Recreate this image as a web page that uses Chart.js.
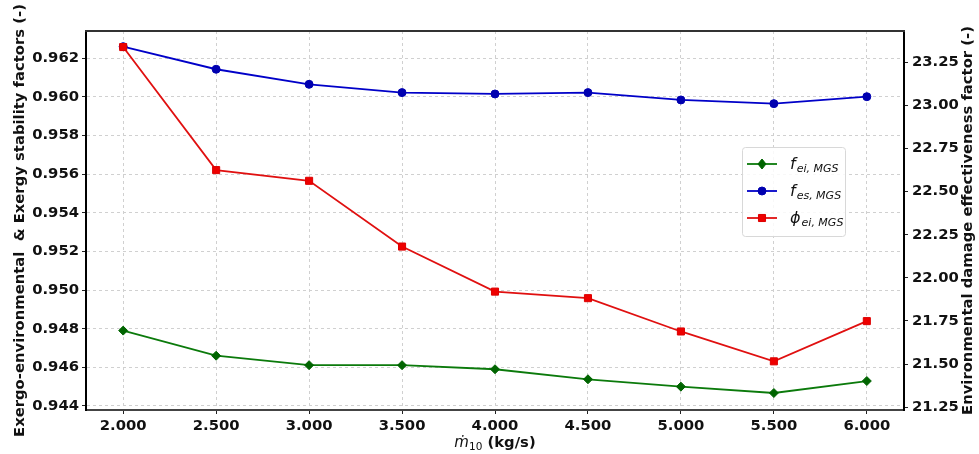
<!DOCTYPE html>
<html>
<head>
<meta charset="utf-8">
<script src="https://cdn.jsdelivr.net/npm/chart.js@4.4.0/dist/chart.umd.min.js"></script>
<style>
  body { margin: 0; background: #fff; }
</style>
</head>
<body>
<canvas id="mgsChart" width="979" height="454"></canvas>
<script>
// mass flow rate m10 (kg/s)
const massFlow = [2.0, 2.5, 3.0, 3.5, 4.0, 4.5, 5.0, 5.5, 6.0];
// exergo-environmental factor (left axis)
const fEi = [0.9479, 0.9466, 0.94611, 0.94611, 0.9459, 0.94538, 0.9450, 0.94467, 0.94529];
// exergy stability factor (left axis)
const fEs = [0.9626, 0.96143, 0.96065, 0.96022, 0.96015, 0.96022, 0.95984, 0.95965, 0.96001];
// environmental damage effectiveness factor (right axis)
const phiEi = [23.337, 22.624, 22.562, 22.181, 21.920, 21.882, 21.689, 21.516, 21.749];

const xTicks = [2.0, 2.5, 3.0, 3.5, 4.0, 4.5, 5.0, 5.5, 6.0];
const leftTicks = [0.944, 0.946, 0.948, 0.950, 0.952, 0.954, 0.956, 0.958, 0.960, 0.962];
const rightTicks = [21.25, 21.50, 21.75, 22.00, 22.25, 22.50, 22.75, 23.00, 23.25];

// legend text: main symbol + subscript
const legendSymbols = ['f', 'f', 'ϕ'];
const legendSubs = ['ei, MGS', 'es, MGS', 'ei, MGS'];
const rightTitle = 'Environmental damage effectiveness factor (-)';

const FONT = "'DejaVu Sans', 'Liberation Sans', sans-serif";
const tickFont = { family: FONT, size: 14.8, weight: 'bold' };
const dashGrid = { color: '#d0d0d0', lineWidth: 1, tickLength: 4, tickColor: '#222', tickBorderDash: [1, 0], tickWidth: 1 };

function pts(ys) {
    return massFlow.map((x, i) => ({ x: x, y: ys[i] }));
}

// draws a marker in the legend
function drawMarker(ctx, style, x, y, r) {
    ctx.beginPath();
    if (style === 'circle') {
        ctx.arc(x, y, r, 0, Math.PI * 2);
    } else if (style === 'rect') {
        const s = r * Math.SQRT1_2;
        ctx.rect(x - s, y - s, 2 * s, 2 * s);
    } else {
        ctx.moveTo(x, y - r);
        ctx.lineTo(x + r * 0.8, y);
        ctx.lineTo(x, y + r);
        ctx.lineTo(x - r * 0.8, y);
        ctx.closePath();
    }
    ctx.fill();
    ctx.stroke();
}

// frame line on top, axis titles drawn by hand, legend box
const extras = {
    id: 'extras',
    afterDraw(chart) {
        const ctx = chart.ctx;
        const a = chart.chartArea;
        ctx.save();

        // top spine
        ctx.strokeStyle = '#333';
        ctx.lineWidth = 2;
        ctx.beginPath();
        ctx.moveTo(a.left - 1, a.top);
        ctx.lineTo(a.right + 1, a.top);
        ctx.stroke();

        // x title: m-dot with subscript 10, then unit
        ctx.fillStyle = '#111';
        ctx.textBaseline = 'alphabetic';
        const base = 447;
        const p1 = 'ṁ', p2 = '10', p3 = ' (kg/s)';
        const f1 = 'italic 15px ' + FONT, f2 = '10.5px ' + FONT, f3 = 'bold 14.8px ' + FONT;
        ctx.font = f1; const w1 = ctx.measureText(p1).width;
        ctx.font = f2; const w2 = ctx.measureText(p2).width;
        ctx.font = f3; const w3 = ctx.measureText(p3).width;
        let x = (a.left + a.right) / 2 - (w1 + w2 + w3) / 2;
        ctx.textAlign = 'left';
        ctx.font = f1; ctx.fillText(p1, x, base); x += w1;
        ctx.font = f2; ctx.fillText(p2, x, base + 3); x += w2;
        ctx.font = f3; ctx.fillText(p3, x, base);

        // right axis title, reading bottom to top
        ctx.save();
        ctx.translate(968, (a.top + a.bottom) / 2);
        ctx.rotate(-Math.PI / 2);
        ctx.textAlign = 'center';
        ctx.textBaseline = 'middle';
        ctx.font = 'bold 14.8px ' + FONT;
        ctx.fillText(rightTitle, 0, 0);
        ctx.restore();

        // legend
        const bx = 742, by = 147, bw = 103, bh = 89;
        ctx.fillStyle = 'rgba(255,255,255,0.85)';
        ctx.strokeStyle = '#d8d8d8';
        ctx.lineWidth = 1;
        ctx.beginPath();
        if (ctx.roundRect) ctx.roundRect(bx + 0.5, by + 0.5, bw, bh, 3);
        else ctx.rect(bx + 0.5, by + 0.5, bw, bh);
        ctx.fill();
        ctx.stroke();

        const order = [0, 1, 2];
        order.forEach((di, i) => {
            const ds = chart.data.datasets[di];
            const cy = by + 17 + i * 27;
            ctx.strokeStyle = ds.borderColor;
            ctx.lineWidth = 1.8;
            ctx.beginPath();
            ctx.moveTo(bx + 5, cy);
            ctx.lineTo(bx + 35, cy);
            ctx.stroke();
            ctx.fillStyle = ds.pointBackgroundColor;
            ctx.strokeStyle = ds.pointBorderColor;
            ctx.lineWidth = 1;
            drawMarker(ctx, ds.pointStyle, bx + 20, cy, ds.pointStyle === 'circle' ? 4 : 5);

            ctx.fillStyle = '#111';
            ctx.textAlign = 'left';
            ctx.textBaseline = 'alphabetic';
            ctx.font = 'italic 16px ' + FONT;
            const tx = bx + 48;
            ctx.fillText(legendSymbols[di], tx, cy + 5);
            const sw = ctx.measureText(legendSymbols[di]).width;
            ctx.font = 'italic 11px ' + FONT;
            ctx.fillText(legendSubs[di], tx + sw + 1, cy + 8);
        });

        ctx.restore();
    }
};

const ctx = document.getElementById('mgsChart').getContext('2d');
const chart = new Chart(ctx, {
    type: 'line',
    data: {
        datasets: [{
            label: 'f_ei,MGS',
            data: pts(fEi),
            yAxisID: 'y',
            borderColor: '#0b7a0b',
            pointBackgroundColor: '#006400',
            pointBorderColor: '#006400',
            pointStyle: 'rectRot',
            pointRadius: 4.5,
            order: 3
        }, {
            label: 'f_es,MGS',
            data: pts(fEs),
            yAxisID: 'y',
            borderColor: '#0000c8',
            pointBackgroundColor: '#0000b0',
            pointBorderColor: '#0000b0',
            pointStyle: 'circle',
            pointRadius: 4,
            order: 2
        }, {
            label: 'phi_ei,MGS',
            data: pts(phiEi),
            yAxisID: 'y1',
            borderColor: '#e01010',
            pointBackgroundColor: '#ee0000',
            pointBorderColor: '#dd0000',
            pointStyle: 'rect',
            pointRadius: 5,
            order: 1
        }]
    },
    options: {
        responsive: false,
        animation: false,
        devicePixelRatio: 1,
        layout: { padding: { top: 31, left: 0, right: 0, bottom: 0 } },
        elements: {
            line: { borderWidth: 1.8, tension: 0 },
            point: { borderWidth: 1 }
        },
        plugins: {
            legend: { display: false },
            tooltip: { enabled: false }
        },
        scales: {
            x: {
                type: 'linear',
                min: 1.8,
                max: 6.2,
                afterBuildTicks: s => { s.ticks = xTicks.map(v => ({ value: v })); },
                afterFit: s => { s.height = 44; },
                ticks: {
                    font: tickFont,
                    color: '#111',
                    padding: 3,
                    maxRotation: 0,
                    callback: v => Number(v).toFixed(3)
                },
                grid: dashGrid,
                border: { color: '#444', width: 2, dash: [3, 3] }
            },
            y: {
                position: 'left',
                min: 0.94379,
                max: 0.96341,
                afterBuildTicks: s => { s.ticks = leftTicks.map(v => ({ value: v })); },
                afterFit: s => { s.width = 86; },
                ticks: {
                    font: tickFont,
                    color: '#111',
                    padding: 3,
                    callback: v => Number(v).toFixed(3)
                },
                grid: dashGrid,
                border: { color: '#000', width: 2, dash: [3, 3] },
                title: {
                    display: true,
                    text: 'Exergo-environmental  & Exergy stability factors (-)',
                    font: tickFont,
                    color: '#111',
                    padding: { top: 11, bottom: 0 }
                }
            },
            y1: {
                position: 'right',
                min: 21.234,
                max: 23.43,
                afterBuildTicks: s => { s.ticks = rightTicks.map(v => ({ value: v })); },
                afterFit: s => { s.width = 75; },
                ticks: {
                    font: tickFont,
                    color: '#111',
                    padding: 4,
                    callback: v => Number(v).toFixed(2)
                },
                grid: { drawOnChartArea: false, tickLength: 4, tickColor: '#222', tickWidth: 1 },
                border: { color: '#000', width: 2 }
            }
        }
    },
    plugins: [extras]
});
</script>
</body>
</html>
